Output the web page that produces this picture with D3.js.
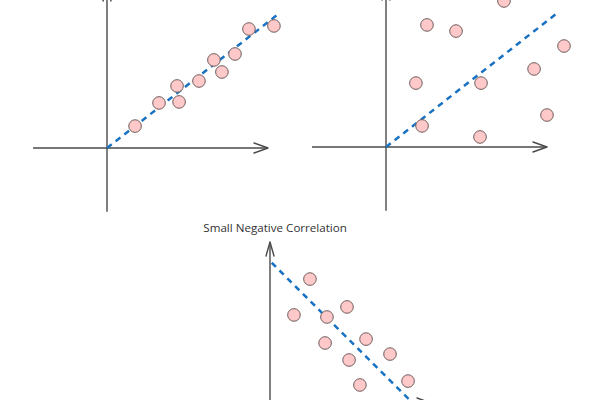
<!DOCTYPE html>
<html>
<head>
<meta charset="utf-8">
<script src="https://cdn.jsdelivr.net/npm/d3@7"></script>
<style>
  html, body { margin: 0; padding: 0; background: #fff; }
  svg { display: block; }
</style>
</head>
<body>
<svg id="chart" width="600" height="400"></svg>
<script>
// ---- Data ----
const panelTitles = ["", "", "Small Negative Correlation"];

// Strong positive correlation (top-left)
const strongPosX = [1.65, 3.06, 4.12, 4.24, 5.41, 6.29, 6.76, 7.53, 8.35, 9.82];
const strongPosY = [1.29, 2.65, 3.65, 2.71, 3.94, 5.18, 4.47, 5.53, 7.00, 7.18];
const strongPosTrendX = [0, 10];
const strongPosTrendY = [0, 7.82];

// Weak positive correlation (top-right)
const weakPosX = [2.41, 4.12, 6.94, 10.47, 8.71, 1.76, 5.59, 9.47, 2.12, 5.53];
const weakPosY = [7.18, 6.82, 8.59, 5.94, 4.59, 3.76, 3.76, 1.88, 1.24, 0.59];
const weakPosTrendX = [0, 10];
const weakPosTrendY = [0, 7.82];

// Small negative correlation (bottom)
const smallNegX = [2.35, 1.41, 3.35, 4.53, 5.65, 3.24, 7.06, 4.65, 5.29, 8.12];
const smallNegY = [7.29, 5.18, 5.06, 5.65, 3.76, 3.53, 2.88, 2.53, 1.06, 1.29];
const smallNegTrendX = [0.1, 8.9];
const smallNegTrendY = [8.25, -0.5];

// Axis extents (data units)
const axisXExtent = [-4.35, 9.47];
const axisYExtent = [-3.75, 9.47];

// ---- Drawing ----
const svg = d3.select("#chart");

const panels = [
  { ox: 107, oy: 148, xs: strongPosX, ys: strongPosY, tx: strongPosTrendX, ty: strongPosTrendY, title: panelTitles[0] },
  { ox: 386, oy: 147, xs: weakPosX, ys: weakPosY, tx: weakPosTrendX, ty: weakPosTrendY, title: panelTitles[1] },
  { ox: 270, oy: 403, xs: smallNegX, ys: smallNegY, tx: smallNegTrendX, ty: smallNegTrendY, title: panelTitles[2] }
];

const unit = 17;
const axisColor = "#4a4a4a";

panels.forEach(p => {
  const x = d3.scaleLinear().domain([0, 10]).range([p.ox, p.ox + 10 * unit]);
  const y = d3.scaleLinear().domain([0, 10]).range([p.oy, p.oy - 10 * unit]);
  const g = svg.append("g");

  // x axis
  g.append("line")
    .attr("x1", x(axisXExtent[0])).attr("x2", x(axisXExtent[1]))
    .attr("y1", y(0)).attr("y2", y(0))
    .attr("stroke", axisColor).attr("stroke-width", 1.4);
  const xt = x(axisXExtent[1]), yt0 = y(0);
  g.append("path")
    .attr("d", `M${xt - 14},${yt0 - 5} L${xt},${yt0} L${xt - 14},${yt0 + 5}`)
    .attr("fill", "none").attr("stroke", axisColor).attr("stroke-width", 1.4)
    .attr("stroke-linejoin", "round").attr("stroke-linecap", "round");

  // y axis
  g.append("line")
    .attr("x1", x(0)).attr("x2", x(0))
    .attr("y1", y(axisYExtent[0])).attr("y2", y(axisYExtent[1]))
    .attr("stroke", axisColor).attr("stroke-width", 1.4);
  const yt = y(axisYExtent[1]), xt0 = x(0);
  g.append("path")
    .attr("d", `M${xt0 - 4},${yt + 14} L${xt0},${yt} L${xt0 + 4},${yt + 14}`)
    .attr("fill", "none").attr("stroke", axisColor).attr("stroke-width", 1.4)
    .attr("stroke-linejoin", "round").attr("stroke-linecap", "round");

  // title
  if (p.title) {
    g.append("text")
      .attr("x", x(0.3)).attr("y", y(axisYExtent[1]) - 10)
      .attr("text-anchor", "middle")
      .attr("font-family", "'Open Sans', sans-serif")
      .attr("font-size", 11.6)
      .attr("fill", "#333")
      .text(p.title);
  }

  // trend line
  const line = d3.line().x(d => x(d[0])).y(d => y(d[1]));
  g.append("path")
    .attr("d", line(d3.zip(p.tx, p.ty)))
    .attr("fill", "none")
    .attr("stroke", "#1971c2")
    .attr("stroke-width", 2.5)
    .attr("stroke-dasharray", "6,5");

  // points
  g.selectAll("circle")
    .data(d3.zip(p.xs, p.ys))
    .join("circle")
    .attr("cx", d => x(d[0]))
    .attr("cy", d => y(d[1]))
    .attr("r", 6.3)
    .attr("fill", "#ffc9c9")
    .attr("stroke", "#6e5c5c")
    .attr("stroke-width", 1);
});
</script>
</body>
</html>
